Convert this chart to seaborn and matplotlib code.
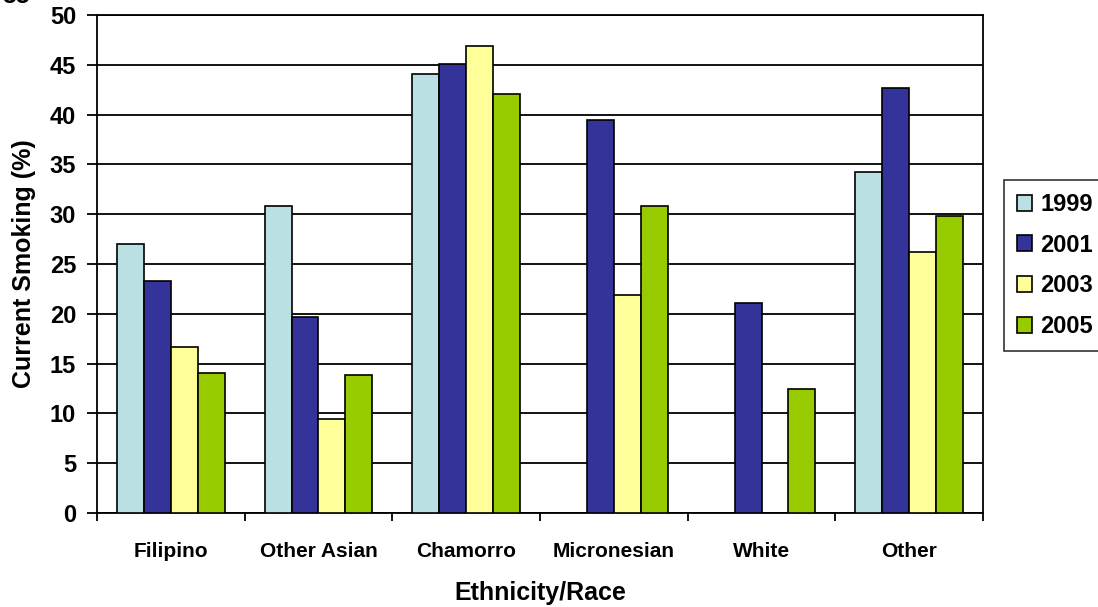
import numpy as np
import pandas as pd
import matplotlib
matplotlib.use("Agg")
import matplotlib.pyplot as plt
from matplotlib.patches import Patch
from matplotlib.ticker import FixedLocator, NullFormatter
import seaborn as sns

# Current smoking prevalence by ethnicity/race and survey year
categories = ["Filipino", "Other Asian", "Chamorro", "Micronesian", "White", "Other"]
years = ["1999", "2001", "2003", "2005"]
smoking_1999 = [27.0, 30.8, 44.1, np.nan, np.nan, 34.2]
smoking_2001 = [23.3, 19.7, 45.1, 39.5, 21.1, 42.7]
smoking_2003 = [16.7, 9.4, 46.9, 21.9, np.nan, 26.2]
smoking_2005 = [14.1, 13.9, 42.1, 30.8, 12.4, 29.8]
y_ticks = list(range(0, 55, 5))

colors = ["#BBE0E3", "#333399", "#FFFF99", "#99CC00"]

series = [smoking_1999, smoking_2001, smoking_2003, smoking_2005]
df = pd.DataFrame(
    [(c, y, v) for y, vals in zip(years, series) for c, v in zip(categories, vals)],
    columns=["Ethnicity/Race", "Year", "Current Smoking (%)"],
).dropna()

sns.set_theme(style="white")
plt.rcParams["font.family"] = ["Liberation Sans", "DejaVu Sans"]
plt.rcParams["font.weight"] = "bold"
for key in ["text.color", "axes.labelcolor", "xtick.color", "ytick.color"]:
    plt.rcParams[key] = "black"

fig = plt.figure(figsize=(10.98, 6.07), dpi=100)
ax = fig.add_axes([0.0883, 0.1549, 0.8070, 0.8204])

sns.barplot(
    data=df, x="Ethnicity/Race", y="Current Smoking (%)", hue="Year",
    order=categories, hue_order=years, palette=colors, width=0.73,
    edgecolor="black", linewidth=1.2, errorbar=None, legend=False,
    saturation=1, ax=ax, zorder=3,
)

ax.set_ylim(0, 50)
ax.set_xlim(-0.5, len(categories) - 0.5)
ax.set_yticks(y_ticks)
ax.set_yticklabels([str(t) for t in y_ticks], fontsize=17, fontweight="bold")
ax.yaxis.grid(True, color="black", linewidth=1.3, zorder=0)
ax.set_axisbelow(True)

# category labels centred, tick marks on the category boundaries
ax.set_xticks(range(len(categories)))
ax.set_xticklabels(categories, fontsize=15, fontweight="bold")
ax.tick_params(axis="x", which="major", length=0, pad=21)
ax.xaxis.set_minor_locator(FixedLocator(np.arange(-0.5, len(categories), 1.0)))
ax.xaxis.set_minor_formatter(NullFormatter())
ax.tick_params(axis="x", which="minor", length=6, width=1.3, color="black", direction="out", bottom=True)
ax.tick_params(axis="y", length=7, width=1.3, color="black", direction="out", left=True, pad=8)

for side in ["left", "right", "top", "bottom"]:
    ax.spines[side].set_visible(True)
    ax.spines[side].set_color("black")
    ax.spines[side].set_linewidth(1.3)

ax.set_xlabel("Ethnicity/Race", fontsize=18, fontweight="bold", labelpad=14)
ax.set_ylabel("Current Smoking (%)", fontsize=18, fontweight="bold", labelpad=10)

handles = [Patch(facecolor=c, edgecolor="black", linewidth=1.2) for c in colors]
leg = fig.legend(
    handles, years, loc="upper left", bbox_to_anchor=(0.9144, 0.7035),
    frameon=True, fancybox=False, shadow=False, edgecolor="black",
    prop={"size": 17, "weight": "bold"}, handlelength=0.65, handleheight=0.65,
    handletextpad=0.35, labelspacing=0.75, borderpad=0.55, borderaxespad=0,
)
leg.get_frame().set_linewidth(1.2)

fig.text(0.002, 1.006, "55", fontsize=18, fontweight="bold", va="center", ha="left")

fig.savefig("out.png", dpi=100, facecolor="white")
